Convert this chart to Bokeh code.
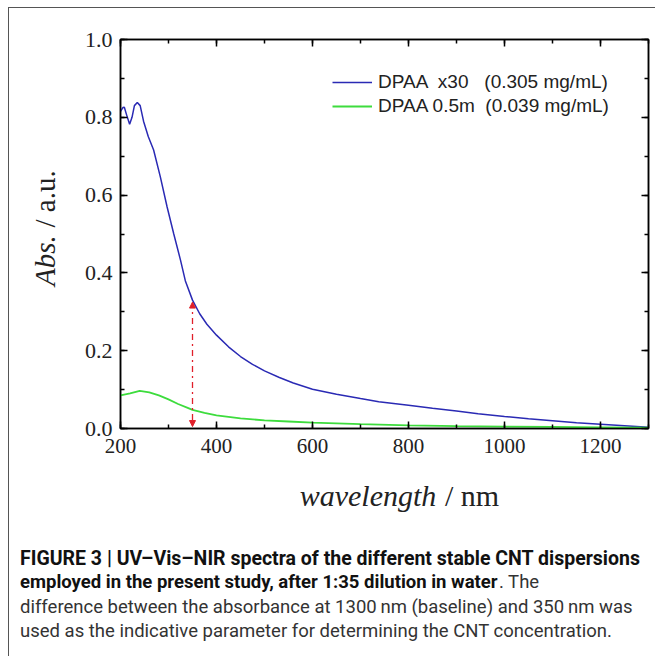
import math
from bokeh.plotting import figure
from bokeh.layouts import column, row
from bokeh.models import (Range1d, LinearAxis, FixedTicker, Legend, LegendItem,
                          Arrow, NormalHead, CustomJSTickFormatter)
from bokeh.core.properties import value
from bokeh.embed import file_html
from bokeh.resources import INLINE

# ---------------- data ----------------
blue_wl = [200, 205, 208, 213, 219, 224, 229, 235, 241, 248, 258, 269, 283, 297, 311, 325,
           335, 350, 365, 380, 400, 425, 450, 475, 500, 531, 560, 600, 650, 700, 738, 800,
           850, 900, 945, 1000, 1050, 1100, 1150, 1200, 1250, 1300]
blue_abs = [0.815, 0.825, 0.826, 0.805, 0.782, 0.80, 0.83, 0.838, 0.83, 0.79, 0.75, 0.716,
            0.647, 0.57, 0.50, 0.433, 0.38, 0.33, 0.295, 0.268, 0.24, 0.21, 0.185, 0.165,
            0.148, 0.131, 0.117, 0.101, 0.088, 0.077, 0.069, 0.060, 0.052, 0.045, 0.038,
            0.031, 0.025, 0.020, 0.015, 0.011, 0.007, 0.003]
green_wl = [200, 220, 240, 260, 280, 300, 320, 340, 350, 375, 400, 450, 500, 550, 600, 700,
            800, 900, 1000, 1100, 1200, 1300]
green_abs = [0.085, 0.09, 0.097, 0.093, 0.085, 0.075, 0.063, 0.053, 0.048, 0.04, 0.034,
             0.026, 0.021, 0.018, 0.015, 0.011, 0.008, 0.006, 0.005, 0.004, 0.003, 0.002]
series_labels = ["DPAA  x30   (0.305 mg/mL)", "DPAA 0.5m  (0.039 mg/mL)"]
arrow_wl = 350
arrow_top = 0.33
arrow_bottom = 0.0
x_ticks = [200, 400, 600, 800, 1000, 1200]
y_ticks = [0.0, 0.2, 0.4, 0.6, 0.8, 1.0]
caption_lines = [
    "FIGURE 3 | UV\u2013Vis\u2013NIR spectra of the different stable CNT dispersions",
    "employed in the present study, after 1:35 dilution in water",
    ". The",
    "difference between the absorbance at 1300\u2009nm (baseline) and 350\u2009nm was",
    "used as the indicative parameter for determining the CNT concentration.",
]

# ---------------- layout ----------------
OX, OY = 9.5, 8.5           # page position of layout origin (margin + border)
W, H = 646, 648
YT_W = 70                   # width of y-title strip
TOP_H = 460                 # height of plot row
FL, FT, FW, FH = 41, 31, 528, 389
X0, X1, Y0, Y1 = 200, 1300, 0.0, 1.0
serif = "Liberation Serif"


def text_fig(w, h):
    f = figure(width=w, height=h, output_backend="svg", toolbar_location=None,
               x_range=Range1d(0, w), y_range=Range1d(0, h),
               min_border=0, x_axis_location=None, y_axis_location=None)
    f.grid.visible = False
    f.outline_line_color = None
    f.background_fill_color = "white"
    f.border_fill_color = "white"
    return f


def put(f, ox, oy, h, txt, px, py, size, style="normal", align="left", angle=0.0,
        color="#222", font=serif):
    f.text(x=[px - ox], y=[h - (py - oy)], text=[txt], angle=angle,
           text_font=value(font), text_font_style=style, text_font_size=value(size),
           text_align=align, text_baseline="middle", text_color=color)


# main plot
p = figure(width=W - YT_W, height=TOP_H, output_backend="svg", toolbar_location=None,
           x_range=Range1d(X0, X1), y_range=Range1d(Y0, Y1),
           min_border_left=FL, min_border_top=FT,
           min_border_right=W - YT_W - FL - FW, min_border_bottom=TOP_H - FT - FH,
           x_axis_location=None, y_axis_location=None)
p.frame_width = FW
p.frame_height = FH
p.grid.visible = False
p.outline_line_color = "black"
p.outline_line_width = 1.5
p.background_fill_color = "white"
p.border_fill_color = "white"


def style_axis(ax, labels=True, size="21px", standoff=8):
    ax.axis_line_color = "black"
    ax.axis_line_width = 1.5
    ax.major_tick_in = 7
    ax.major_tick_out = 0
    ax.minor_tick_in = 4
    ax.minor_tick_out = 0
    ax.major_tick_line_width = 1.5
    ax.minor_tick_line_width = 1.5
    ax.major_label_text_font = serif
    ax.major_label_text_font_size = size
    ax.major_label_text_color = "#222"
    ax.major_label_standoff = standoff
    if not labels:
        ax.formatter = CustomJSTickFormatter(code="return '';")


xt = FixedTicker(ticks=x_ticks, minor_ticks=list(range(200, 1301, 100)))
yt = FixedTicker(ticks=y_ticks, minor_ticks=[i / 10 for i in range(0, 11)])

bottom = LinearAxis(ticker=xt); style_axis(bottom, size="21px", standoff=10)
top = LinearAxis(ticker=xt); style_axis(top, labels=False)
left = LinearAxis(ticker=yt); style_axis(left, size="22px", standoff=8)
left.formatter = CustomJSTickFormatter(code="return tick.toFixed(1);")
right = LinearAxis(ticker=yt); style_axis(right, labels=False)
p.add_layout(bottom, "below")
p.add_layout(top, "above")
p.add_layout(left, "left")
p.add_layout(right, "right")

r_blue = p.line(blue_wl, blue_abs, line_color="#2a2ab4", line_width=1.5)
r_green = p.line(green_wl, green_abs, line_color="#3ddc3d", line_width=1.8)

legend = Legend(items=[LegendItem(label=series_labels[0], renderers=[r_blue]),
                       LegendItem(label=series_labels[1], renderers=[r_green])],
                location=(212, 311), border_line_color=None, background_fill_alpha=0,
                padding=0, margin=0, spacing=2, glyph_width=40, glyph_height=22,
                label_height=22, label_standoff=6, label_text_font="Liberation Sans",
                label_text_font_size="19px", label_text_color="#222")
p.add_layout(legend)

red = "#e0202a"
p.add_layout(Arrow(x_start=arrow_wl, y_start=arrow_top - 0.005, x_end=arrow_wl,
                   y_end=arrow_bottom + 0.005,
                   line_color=red, line_width=1.3, line_dash="dashdot",
                   start=NormalHead(size=6, fill_color=red, line_color=red),
                   end=NormalHead(size=6, fill_color=red, line_color=red)))

# y-axis title strip
yfig = text_fig(YT_W, TOP_H)
put(yfig, OX, OY, TOP_H, "Abs.", 45, 270, "29px", style="italic", align="center",
    angle=math.pi / 2)
put(yfig, OX, OY, TOP_H, "/ a.u.", 45, 197, "29px", align="center", angle=math.pi / 2)

# x-axis title + caption
BH = H - TOP_H
bfig = text_fig(W, BH)
BOY = OY + TOP_H
put(bfig, OX, BOY, BH, "wavelength", 368, 495, "30px", style="italic", align="center")
put(bfig, OX, BOY, BH, "/ nm", 472, 495, "30px", align="center")
cap_font = "Roboto"
cs = "18.5px"
put(bfig, OX, BOY, BH, caption_lines[0], 20, 558, "19.5px", style="bold", color="#111", font=cap_font)
put(bfig, OX, BOY, BH, caption_lines[1], 20, 582, cs, style="bold", color="#111", font=cap_font)
put(bfig, OX, BOY, BH, caption_lines[2], 499, 582, cs, color="#333", font=cap_font)
put(bfig, OX, BOY, BH, caption_lines[3], 20, 607, cs, color="#333", font=cap_font)
put(bfig, OX, BOY, BH, caption_lines[4], 20, 631, cs, color="#333", font=cap_font)

layout = column(row(yfig, p, spacing=0), bfig, spacing=0)
layout.styles = {"margin-left": "8px", "margin-top": "7px",
                 "border-top": "1.5px solid #555", "border-left": "1.5px solid #555"}

open("out.html", "w").write(file_html(layout, INLINE))
